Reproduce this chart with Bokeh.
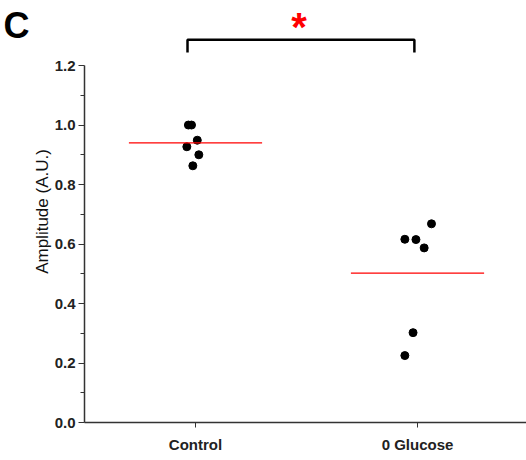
from bokeh.plotting import figure
from bokeh.models import FixedTicker, Label, LinearAxis
from bokeh.embed import file_html
from bokeh.resources import INLINE

# ---- data ----
categories = ["Control", "0 Glucose"]
control_vals = [1.00, 1.00, 0.949, 0.927, 0.900, 0.863]
control_jitter = [-0.032, -0.018, 0.008, -0.039, 0.015, -0.012]
glucose_vals = [0.668, 0.616, 0.615, 0.587, 0.302, 0.225]
glucose_jitter = [0.063, -0.057, -0.007, 0.030, -0.020, -0.057]
y_ticks = [0.0, 0.2, 0.4, 0.6, 0.8, 1.0, 1.2]
y_minor = [0.1, 0.3, 0.5, 0.7, 0.9, 1.1]
significance = "*"
panel_letter = "C"

FONT = "Liberation Sans"

p = figure(width=526, height=460, output_backend="svg", toolbar_location=None,
           x_range=(0.5, 2.491), y_range=(0.0, 1.4187),
           min_border_left=84, min_border_right=0, min_border_top=0, min_border_bottom=38)
p.outline_line_color = None
p.xgrid.visible = False
p.ygrid.visible = False
p.background_fill_color = "white"
p.border_fill_color = "white"

# y axis
ya = p.yaxis[0]
ya.ticker = FixedTicker(ticks=y_ticks, minor_ticks=y_minor)
ya.bounds = (0, 1.2)
ya.major_label_overrides = {t: f"{t:.1f}" for t in y_ticks}
ya.axis_label = "Amplitude (A.U.)"
ya.axis_label_text_font = FONT
ya.axis_label_text_font_style = "normal"
ya.axis_label_text_font_size = "17px"
ya.axis_label_text_color = "#111111"
ya.axis_label_standoff = 0
ya.major_label_text_font = FONT
ya.major_label_text_font_style = "bold"
ya.major_label_text_font_size = "15px"
ya.major_label_text_color = "#222222"
ya.major_label_standoff = 3
ya.major_tick_in = 0
ya.major_tick_out = 6
ya.minor_tick_in = 0
ya.minor_tick_out = 4
ya.axis_line_color = "#333333"
ya.axis_line_width = 1.5
ya.major_tick_line_color = "#333333"
ya.minor_tick_line_color = "#333333"

# panel letter, drawn as the single label of an extra bare axis on the left
letter_y = 1.336
la = LinearAxis(ticker=FixedTicker(ticks=[letter_y], minor_ticks=[]),
                major_label_overrides={letter_y: panel_letter},
                axis_line_color=None, major_tick_line_color=None, minor_tick_line_color=None,
                major_tick_in=0, major_tick_out=0, minor_tick_in=0, minor_tick_out=0,
                major_label_standoff=0,
                major_label_text_font=FONT, major_label_text_font_style="bold",
                major_label_text_font_size="36px", major_label_text_color="black")
p.add_layout(la, "left")

# x axis
xa = p.xaxis[0]
xa.ticker = FixedTicker(ticks=[1, 2], minor_ticks=[])
xa.major_label_overrides = {i + 1: c for i, c in enumerate(categories)}
xa.major_label_text_font = FONT
xa.major_label_text_font_style = "bold"
xa.major_label_text_font_size = "15px"
xa.major_label_text_color = "#222222"
xa.major_label_standoff = 8
xa.major_tick_in = 0
xa.major_tick_out = 5
xa.minor_tick_in = 0
xa.minor_tick_out = 0
xa.axis_line_color = "#333333"
xa.axis_line_width = 1.5
xa.major_tick_line_color = "#333333"

# points
xs = [1 + j for j in control_jitter] + [2 + j for j in glucose_jitter]
ys = control_vals + glucose_vals
p.scatter(x=xs, y=ys, size=8, color="black")

# mean lines
means = [sum(control_vals) / len(control_vals), sum(glucose_vals) / len(glucose_vals)]
p.segment(x0=[c - 0.3 for c in (1, 2)], x1=[c + 0.3 for c in (1, 2)], y0=means, y1=means,
          line_color="red", line_width=1.3)

# significance bracket
p.line(x=[0.964, 0.964, 1.986, 1.986], y=[1.244, 1.287, 1.287, 1.244],
       line_color="black", line_width=2.5)

p.add_layout(Label(x=1.466, y=1.402, text=significance, text_color="red",
                   text_font=FONT, text_font_style="bold", text_font_size="40px",
                   text_align="center", text_baseline="top"))

open("out.html", "w").write(file_html(p, INLINE))
